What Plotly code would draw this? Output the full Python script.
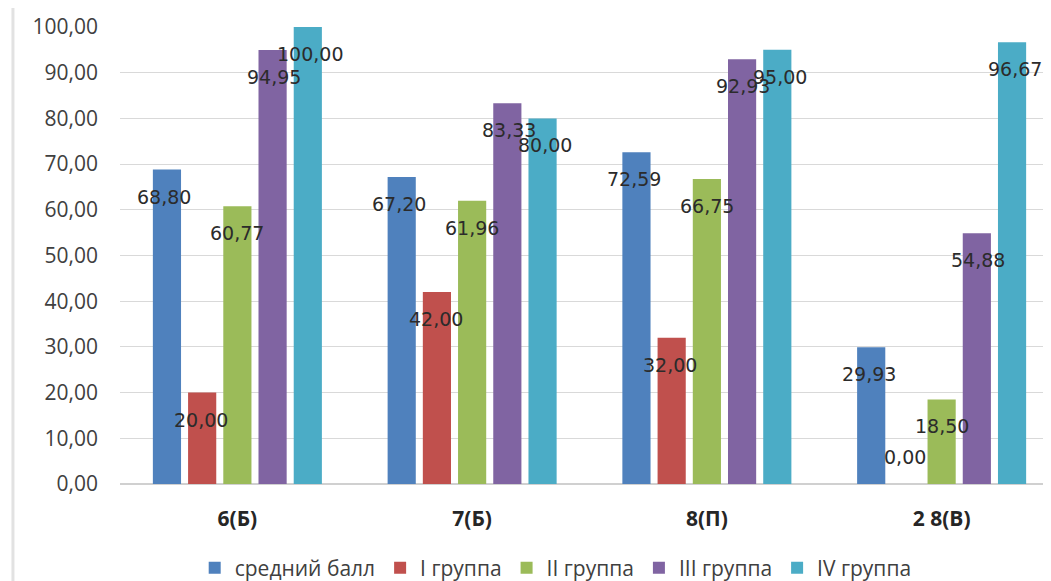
import plotly.graph_objects as go

categories = ["6(Б)", "7(Б)", "8(П)", "2 8(В)"]
series_names = ["средний балл", "I группа", "II группа", "III группа", "IV группа"]
avg_score = [68.80, 67.20, 72.59, 29.93]
group_1 = [20.00, 42.00, 32.00, 0.00]
group_2 = [60.77, 61.96, 66.75, 18.50]
group_3 = [94.95, 83.33, 92.93, 54.88]
group_4 = [100.00, 80.00, 95.00, 96.67]
y_ticks = [0, 10, 20, 30, 40, 50, 60, 70, 80, 90, 100]

series_values = [avg_score, group_1, group_2, group_3, group_4]
colors = ["#4F81BD", "#C0504D", "#9BBB59", "#8064A2", "#4BACC6"]

fig = go.Figure()
for name, vals, col in zip(series_names, series_values, colors):
    fig.add_trace(go.Bar(x=categories, y=vals, name=name, marker_color=col,
                         marker_line_width=0))

FONT = "Open Sans"
LABEL_FONT = "DejaVu Sans"
bar_step = 36.5
annotations = []
for i, vals in enumerate(series_values):
    for cat, v in zip(categories, vals):
        annotations.append(dict(
            x=cat, y=v, xref="x", yref="y",
            text=f"{v:.2f}".replace(".", ","),
            showarrow=False, xshift=(i - 2) * bar_step,
            yshift=-27 if v >= 5 else 27,
            font=dict(family=LABEL_FONT, size=19, color="#2b2b2b"),
        ))

plot_h = 457
fig.update_layout(
    width=1051, height=600,
    margin=dict(l=112, r=0, t=19, b=600 - 19 - plot_h),
    paper_bgcolor="white", plot_bgcolor="white",
    separators=",.",
    barmode="group", bargap=0.25, bargroupgap=0.2,
    showlegend=True,
    legend=dict(orientation="h", x=0.464, xanchor="center", y=-0.184, yanchor="middle",
                font=dict(family=FONT, size=21, color="#404040"),
                itemwidth=30, traceorder="normal"),
    annotations=annotations,
    shapes=[dict(type="line", xref="paper", yref="paper", x0=-0.114, x1=-0.114,
                 y0=-0.25, y1=1.06, line=dict(color="#e2e2e2", width=3))],
)
fig.update_yaxes(range=[0, 100], tickvals=y_ticks, tickformat=".2f",
                 automargin=False,
                 showgrid=True, gridcolor="#d9d9d9", gridwidth=1,
                 zeroline=True, zerolinecolor="#d0d0d0", showline=False,
                 tickfont=dict(family=FONT, size=21, color="#404040"),
                 ticklabelstandoff=21)
fig.update_xaxes(showline=False, ticks="", automargin=False,
                 tickfont=dict(family=FONT, size=21, color="#262626", weight="bold"),
                 ticklabelstandoff=20)

fig.write_html("out.html")
